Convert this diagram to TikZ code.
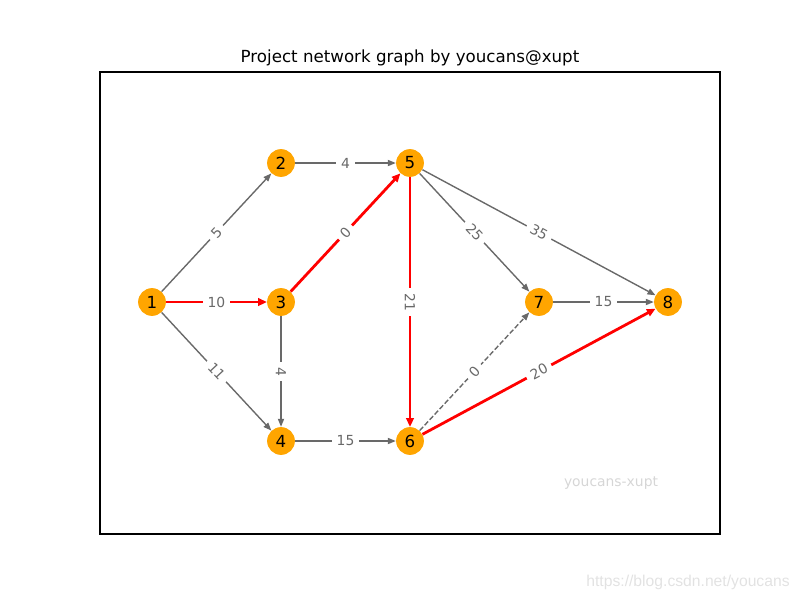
\documentclass[tikz,border=0pt]{standalone}
\usepackage{fontspec}
\setmainfont{DejaVu Sans}
\newfontfamily\urlfont{Liberation Sans}
\usepackage{tikz}
\usetikzlibrary{arrows.meta}
\definecolor{nodeorange}{RGB}{255,165,0}
\definecolor{edgegray}{RGB}{105,105,105}
\definecolor{markgray}{RGB}{214,214,214}
\definecolor{urlgray}{RGB}{226,226,226}

\begin{document}
\begin{tikzpicture}[
			x=0.72pt, y=-0.72pt,
			vertex/.style={
				circle,
				fill=nodeorange,
				minimum size=20pt,
				inner sep=0pt,
				font=\fontsize{12}{14}\selectfont
			},
			edge/.style={-{Triangle[length=5.8pt,width=4.4pt]},draw=edgegray,line width=1pt},
			crit/.style={-{Triangle[length=6.2pt,width=5.4pt]},draw=red,line width=2pt},
			dummy/.style={edge,dash pattern=on 3.7pt off 1.6pt},
			weight/.style={midway,sloped,fill=white,inner xsep=3.6pt,inner ysep=1pt,text=edgegray,font=\fontsize{10}{12}\selectfont}
			]
			
			\useasboundingbox (0,0) rectangle (800,600);
			
			\node (title) at (410,58) {\fontsize{12}{14}\selectfont Project network graph by youcans@xupt};
			\draw[line width=0.8pt] (100,72) rectangle (720,534);
			
			\node[vertex] (n1) at (152,302) {1};
			\node[vertex] (n2) at (281,163) {2};
			\node[vertex] (n3) at (281,302) {3};
			\node[vertex] (n4) at (281,441) {4};
			\node[vertex] (n5) at (410,163) {5};
			\node[vertex] (n6) at (410,441) {6};
			\node[vertex] (n7) at (539,302) {7};
			\node[vertex] (n8) at (668,302) {8};
			
			\draw[edge] (n1)--(n2) node[weight] {5};
			\draw[crit] (n1)--(n3) node[weight] {10};
			\draw[edge] (n1)--(n4) node[weight] {11};
			\draw[edge] (n2)--(n5) node[weight] {4};
			\draw[edge] (n3)--(n4) node[weight] {4};
			\draw[crit] (n3)--(n5) node[weight] {0};
			\draw[edge] (n4)--(n6) node[weight] {15};
			\draw[crit] (n5)--(n6) node[weight] {21};
			\draw[edge] (n5)--(n7) node[weight] {25};
			\draw[edge] (n5)--(n8) node[weight] {35};
			\draw[dummy] (n6)--(n7) node[weight] {0};
			\draw[crit] (n6)--(n8) node[weight] {20};
			\draw[edge] (n7)--(n8) node[weight] {15};
			
			\node[text=markgray,font=\fontsize{10}{12}\selectfont] (mark) at (611,483) {youcans-xupt};
			\node[text=urlgray,font=\urlfont\fontsize{11.3}{13}\selectfont] (url) at (688,582) {https://blog.csdn.net/youcans};
			
		\end{tikzpicture}
\end{document}
